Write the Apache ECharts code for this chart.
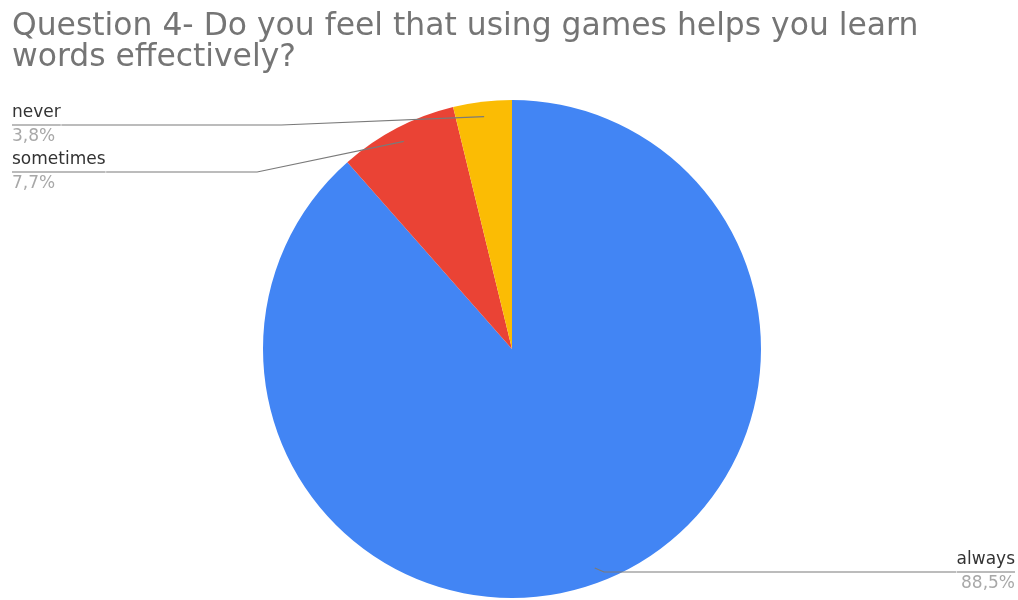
<!DOCTYPE html>
<html>
<head>
<meta charset="utf-8">
<title>Question 4</title>
<script src="https://cdn.jsdelivr.net/npm/echarts@6/dist/echarts.min.js"></script>
<style>
  html, body { margin: 0; padding: 0; background: #ffffff; }
  #chart { width: 1018px; height: 600px; }
</style>
</head>
<body>
<div id="chart"></div>
<script>
// Survey answers, clockwise from twelve o'clock
const answers = ['always', 'sometimes', 'never'];
const shares = [88.5, 7.7, 3.8];
const sliceColors = ['#4285f4', '#ea4335', '#fbbc04'];

// Pie geometry
const pieCenter = [512, 349];
const pieRadius = 249;
// Leader lines start a little inside the slice, on its middle angle
const leaderDepth = 0.94;

// Where each callout sits and how far its leader runs horizontally
const calloutSpots = [
  { x: 1015, y: 572, align: 'right', run: 352 },
  { x: 12, y: 172, align: 'left', run: 151 },
  { x: 12, y: 125, align: 'left', run: 220 }
];

function formatShare(v) {
  return v.toFixed(1).replace('.', ',') + '%';
}

function buildData(colors) {
  return answers.map(function (name, i) {
    return {
      name: name,
      value: shares[i],
      itemStyle: { color: colors ? colors[i] : 'rgba(0,0,0,0)' }
    };
  });
}

const pieBase = {
  type: 'pie',
  center: pieCenter,
  radius: pieRadius,
  startAngle: 90,
  clockwise: true,
  avoidLabelOverlap: false,
  emphasis: { disabled: true }
};

const chart = echarts.init(document.getElementById('chart'), null, { renderer: 'canvas' });

chart.setOption({
  animation: false,
  backgroundColor: '#ffffff',
  title: {
    text: 'Question 4- Do you feel that using games helps you learn\nwords effectively?',
    left: 12,
    top: 11,
    padding: 0,
    textStyle: {
      fontFamily: 'DejaVu Sans',
      fontSize: 31.4,
      fontWeight: 'normal',
      lineHeight: 31,
      color: '#757575'
    }
  },
  series: [
    // the slices themselves
    Object.assign({}, pieBase, {
      z: 2,
      data: buildData(sliceColors),
      itemStyle: { borderWidth: 0 },
      label: { show: false },
      labelLine: { show: false }
    }),
    // callouts layered above the slices
    Object.assign({}, pieBase, {
      z: 4,
      silent: true,
      data: buildData(null),
      itemStyle: { borderWidth: 0 },
      label: {
        show: true,
        position: 'outer',
        fontFamily: 'DejaVu Sans',
        formatter: function (p) {
          return '{name|' + p.name + '}\n{hr|}\n{val|' + formatShare(p.value) + '}';
        },
        rich: {
          name: { fontFamily: 'DejaVu Sans', fontSize: 17, lineHeight: 24, color: '#333333' },
          hr: { width: '100%', height: 0, borderWidth: 0.6, borderColor: '#7a7a7a' },
          val: { fontFamily: 'DejaVu Sans', fontSize: 17, lineHeight: 24, color: '#a8a8a8' }
        }
      },
      labelLine: {
        show: true,
        length: 10,
        length2: 10,
        smooth: false,
        minTurnAngle: 0,
        lineStyle: { color: '#7a7a7a', width: 1.2 }
      },
      labelLayout: function (params) {
        const spot = calloutSpots[params.dataIndex];
        const w = params.labelRect.width;
        const toRight = spot.align === 'left';
        const edgeX = toRight ? spot.x + w : spot.x - w;
        const turnX = toRight ? edgeX + spot.run : edgeX - spot.run;
        const layout = {
          x: spot.x,
          y: spot.y,
          align: spot.align,
          verticalAlign: 'middle'
        };
        const pts = params.labelLinePoints;
        if (pts && pts.length) {
          // first point sits on the rim at the slice's middle angle
          const rim = pts[0];
          const inner = [
            pieCenter[0] + (rim[0] - pieCenter[0]) * leaderDepth,
            pieCenter[1] + (rim[1] - pieCenter[1]) * leaderDepth
          ];
          layout.labelLinePoints = [inner, [turnX, spot.y], [edgeX, spot.y]];
        }
        return layout;
      }
    })
  ]
});
</script>
</body>
</html>
